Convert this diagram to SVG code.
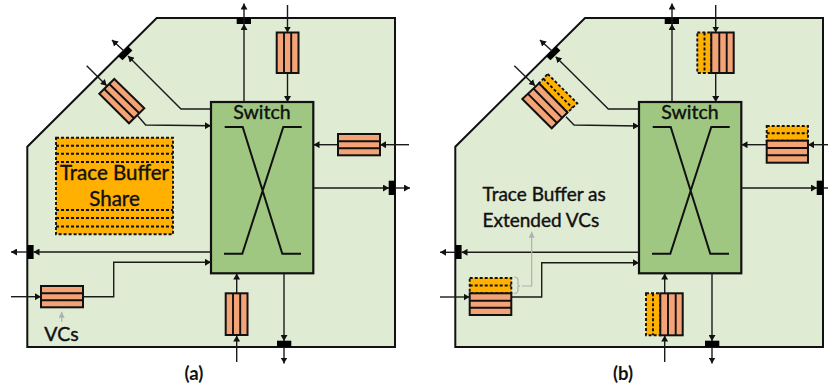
<svg xmlns="http://www.w3.org/2000/svg" width="828" height="390" viewBox="0 0 828 390">
<style>
.router{fill:#e0ebd4;stroke:#111;stroke-width:2;stroke-linejoin:miter}
.switch{fill:#9fc782;stroke:#111;stroke-width:2.2}
.xbar{fill:none;stroke:#111;stroke-width:2}
.vc{fill:#f4a376;stroke:#111;stroke-width:2}
.div{fill:none;stroke:#111;stroke-width:1.9}
.tb{fill:#ffb000;stroke:#111;stroke-width:1.9;stroke-dasharray:3 2}
.tbd{fill:none;stroke:#111;stroke-width:1.9;stroke-dasharray:3 2}
.bar{fill:#000;stroke:none}
.c{fill:none;stroke:#1a1a1a;stroke-width:1.4;marker-end:url(#ah)}
.c0{fill:none;stroke:#1a1a1a;stroke-width:1.4}
.g{fill:none;stroke:#b0b0b0;stroke-width:1.2}
.ga{marker-end:url(#gh)}
text{font-family:Lato,"Liberation Sans",sans-serif;fill:#111;stroke:#111;stroke-width:.4}
.sw{font-size:19.5px;text-anchor:middle}
.lb{font-size:20.5px;text-anchor:middle}
.ex{font-size:19px}
.cap{font-size:18.5px;font-weight:700;stroke:none;text-anchor:middle}
</style>
<defs>
<marker id="ah" markerUnits="userSpaceOnUse" markerWidth="7" markerHeight="7" refX="6" refY="3.5" orient="auto"><path d="M0 0L6 3.5L0 7z" fill="#111"/></marker>
<marker id="gh" markerUnits="userSpaceOnUse" markerWidth="7" markerHeight="7" refX="6" refY="3" orient="auto"><path d="M0 0L6 3L0 6z" fill="#b0b0b0"/></marker>
</defs>

<g id="router-a"><path class="router" d="M27.3 347V146.7L156.7 18H395V347z"/></g>
<g id="router-b"><path class="router" d="M455.3 347V146.7L585 18H823V347z"/></g>

<g id="trace-buffer-a">
<rect class="tb" x="56" y="137.7" width="117" height="96.6"/>
<path class="tbd" d="M56 145.7H173M56 153.7H173M56 162H173M56 210H173M56 218H173M56 226.5H173"/>
<text class="lb" x="114.5" y="180">Trace Buffer</text>
<text class="lb" x="114.500" y="205.500">Share</text>
</g>

<g id="switch-a">
<rect class="switch" x="211" y="102" width="102.3" height="171.3"/>
<text class="sw" x="262" y="119">Switch</text>
<path class="xbar" d="M224.7 127H242.7L282.3 253.7H301M301.7 127H283.3L242.3 253.7H224"/>
</g>
<g id="switch-b">
<rect class="switch" x="639" y="102" width="102.3" height="171.3"/>
<text class="sw" x="690" y="119">Switch</text>
<path class="xbar" d="M652.7 127H670.7L710.3 253.7H729M729.7 127H711.3L670.3 253.7H652"/>
</g>

<g id="ports-a">
<rect class="bar" x="236.7" y="17.7" width="14.3" height="6.3"/>
<rect class="bar" x="388.7" y="180.7" width="6.3" height="14.3"/>
<rect class="bar" x="277" y="340.7" width="14.3" height="6.3"/>
<rect class="bar" x="27.3" y="245" width="6.3" height="14"/>
<rect class="bar" x="118.3" y="50.3" width="14" height="6" transform="rotate(-45 125.3 53.3)"/>
</g>
<g id="ports-b">
<rect class="bar" x="664.7" y="17.7" width="14.3" height="6.3"/>
<rect class="bar" x="816.7" y="180.7" width="6.3" height="14.3"/>
<rect class="bar" x="705" y="340.7" width="14.3" height="6.3"/>
<rect class="bar" x="455.3" y="245" width="6.3" height="14"/>
<rect class="bar" x="546.3" y="50.3" width="14" height="6" transform="rotate(-45 553.3 53.3)"/>
</g>

<g id="connectors">
<path class="c" d="M244 102V24"/><path class="c" d="M244 24V3.5"/>
<path class="c" d="M287.5 5V32.5"/><path class="c" d="M287.5 73V102"/>
<path class="c" d="M409 144.7H380"/><path class="c" d="M338 144.7H313.5"/>
<path class="c" d="M313.5 188H389"/><path class="c" d="M395 188H410"/>
<path class="c" d="M284 273.5V341"/><path class="c" d="M284 347V363.5"/>
<path class="c" d="M236.7 362V335.5"/><path class="c" d="M236.7 293V273.5"/>
<path class="c" d="M211 252H33.5"/><path class="c" d="M27.5 252H11"/>
<path class="c" d="M11 296.7H41"/><path class="c" d="M83 296.7H113.7V262.3H211"/>
<path class="c" d="M211 109H181L128 56"/><path class="c" d="M124 51L112 40"/>
<path class="c" d="M86.7 65.7L106.7 85.7"/><path class="c" d="M137.7 115.7L145.7 125L211 125.7"/>

<path class="c" d="M672 102V24"/><path class="c" d="M672 24V3.5"/>
<path class="c" d="M715.7 5V32.5"/><path class="c" d="M715.7 73V102"/>
<path class="c" d="M828 144.7H808"/><path class="c" d="M766.7 144.7H741.5"/>
<path class="c" d="M741.5 188H817"/><path class="c0" d="M823 188H828"/>
<path class="c" d="M712 273.5V341"/><path class="c" d="M712 347V363.5"/>
<path class="c" d="M664.7 362V335.5"/><path class="c" d="M664.7 293V273.5"/>
<path class="c" d="M639 252.3H461.5"/><path class="c" d="M455.5 252.3H440"/>
<path class="c" d="M440 297H469.5"/><path class="c" d="M511.3 297H541.7V262.7H639"/>
<path class="c" d="M639 109H608.3L555.7 56.7"/><path class="c" d="M552 51L540 40"/>
<path class="c" d="M514.3 65.7L535 85.7"/><path class="c" d="M566 116.7L574 125L639 126"/>
</g>

<g id="vc-a-diag">
<path class="vc" d="M114.3 79L144.3 108.3L129 123.3L99.3 93.7z"/>
<path class="div" d="M109.3 84L139.3 113.3M104.3 89L134 118.3"/>
</g>
<g id="vc-a-top">
<rect class="vc" x="276.7" y="32.5" width="21.8" height="40.5"/>
<path class="div" d="M284 32.5V73M291.2 32.5V73"/>
</g>
<g id="vc-a-right">
<rect class="vc" x="338" y="134" width="42" height="21.3"/>
<path class="div" d="M338 141.2H380M338 148.2H380"/>
</g>
<g id="vc-a-left">
<rect class="vc" x="41" y="286" width="42" height="21.3"/>
<path class="div" d="M41 293.2H83M41 300.2H83"/>
</g>
<g id="vc-a-bottom">
<rect class="vc" x="225.7" y="293.3" width="21.8" height="41.7"/>
<path class="div" d="M233 293.3V335M240.2 293.3V335"/>
</g>

<g id="vc-b-diag">
<path class="tb" d="M547.7 74L577.3 103.3L567.5 112.5L539 83.3z"/>
<path class="tbd" d="M543.3 78.7L572.5 108"/>
<path class="vc" d="M539 83.3L567.5 112.5L551.7 128.3L522.3 99z"/>
<path class="div" d="M533.5 88.5L562.2 117.8M528 93.8L557 123"/>
</g>
<g id="vc-b-top">
<rect class="tb" x="697.3" y="32.5" width="14" height="40.5"/>
<path class="tbd" d="M704.5 32.5V73"/>
<rect class="vc" x="711.3" y="32.5" width="22.4" height="40.5"/>
<path class="div" d="M719.3 32.5V73M726.7 32.5V73"/>
</g>
<g id="vc-b-right">
<rect class="tb" x="766.7" y="126" width="41.3" height="14.7"/>
<path class="tbd" d="M766.7 133.3H808"/>
<rect class="vc" x="766.7" y="140.7" width="41.3" height="22"/>
<path class="div" d="M766.7 148H808M766.7 155.3H808"/>
</g>
<g id="vc-b-left">
<rect class="tb" x="469.7" y="278" width="41.6" height="15.3"/>
<path class="tbd" d="M469.7 285.5H511.3"/>
<rect class="vc" x="469.7" y="293.3" width="41.6" height="21.7"/>
<path class="div" d="M469.7 300.7H511.3M469.7 307.7H511.3"/>
</g>
<g id="vc-b-bottom">
<rect class="tb" x="646" y="293.3" width="14.3" height="42"/>
<path class="tbd" d="M653 293.3V335.3"/>
<rect class="vc" x="660.3" y="293.3" width="22.4" height="42"/>
<path class="div" d="M668 293.3V335.3M675.7 293.3V335.3"/>
</g>

<g id="label-vcs">
<path class="g ga" d="M61.7 322V311.7"/>
<text class="sw" x="61.5" y="341">VCs</text>
</g>
<g id="label-extended">
<path class="g" d="M514 277C518 277 518 279 518 282V285C518 285.500 519 286 520 286C519 286 518 286.500 518 287V290C518 292 517 293.500 514 293.500"/>
<path class="g ga" d="M522 286H531.700V231.700"/>
<text class="ex" x="482.500" y="200.700">Trace Buffer as</text>
<text class="ex" x="482.500" y="226.700">Extended VCs</text>
</g>
<g id="captions">
<text class="cap" x="194" y="380">(a)</text>
<text class="cap" x="623" y="380">(b)</text>
</g>
</svg>
